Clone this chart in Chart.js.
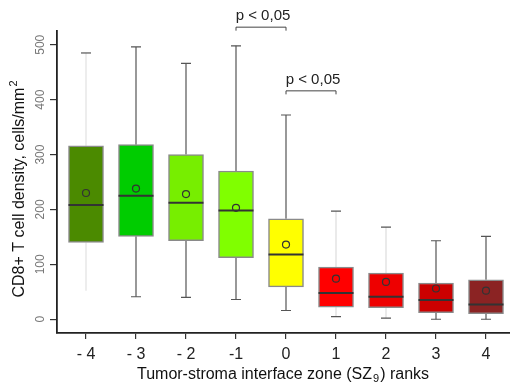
<!DOCTYPE html>
<html>
<head>
<meta charset="utf-8">
<script src="https://cdn.jsdelivr.net/npm/chart.js@4.4.0/dist/chart.umd.min.js"></script>
<style>
  html, body { margin: 0; padding: 0; background: #fff; }
  #wrap { width: 510px; height: 392px; }
</style>
</head>
<body>
<div id="wrap"><canvas id="chart"></canvas></div>
<script>
// box plot values per SZ9 rank
const ranks = [-4, -3, -2, -1, 0, 1, 2, 3, 4];
const rankLabels = ['- 4', '- 3', '- 2', '-1', '0', '1', '2', '3', '4'];
const whiskerLow = [52, 41, 40, 36, 16, 5, 2, 0, 0];
const q1 = [140, 151, 143, 112, 59, 22, 21, 12, 10];
const medians = [208, 225, 212, 198, 118, 48, 41, 35, 27];
const q3 = [316, 318, 300, 270, 183, 95, 84, 66, 72];
const whiskerHigh = [485, 496, 466, 498, 372, 197, 168, 143, 151];
const means = [230, 238, 228, 203, 136, 74, 68, 56, 52];
const yTicks = [0, 100, 200, 300, 400, 500];

// significance brackets: from rank, to rank, bracket level (data units)
const compFrom = [-1, 0];
const compTo = [0, 1];
const compLevel = [532, 416];
const compText = ['p < 0,05', 'p < 0,05'];

const boxColors = ['#4b8a00', '#00cc00', '#77ee00', '#80ff00', '#ffff00', '#ff0000', '#ee0000', '#cc0000', '#8b2323'];
const whiskerColors = ['#e2e2e2', '#555', '#555', '#555', '#555', '#dcdcdc', '#dcdcdc', '#555', '#555'];
const FONT = "'Liberation Sans', Arial, sans-serif";

const boxParts = {
    id: 'boxParts',
    beforeDatasetsDraw(chart) {
        const { ctx, scales: { x, y } } = chart;
        ctx.save();
        ranks.forEach((r, i) => {
            const px = x.getPixelForValue(r);
            ctx.strokeStyle = whiskerColors[i];
            ctx.lineWidth = 1.2;
            ctx.beginPath();
            ctx.moveTo(px, y.getPixelForValue(whiskerLow[i]));
            ctx.lineTo(px, y.getPixelForValue(q1[i]));
            ctx.moveTo(px, y.getPixelForValue(q3[i]));
            ctx.lineTo(px, y.getPixelForValue(whiskerHigh[i]));
            ctx.stroke();
            // caps
            ctx.strokeStyle = '#555';
            ctx.beginPath();
            const top = y.getPixelForValue(whiskerHigh[i]);
            ctx.moveTo(px - 5, top);
            ctx.lineTo(px + 5, top);
            if (i > 0) {
                const low = y.getPixelForValue(whiskerLow[i]);
                ctx.moveTo(px - 5, low);
                ctx.lineTo(px + 5, low);
            }
            ctx.stroke();
        });
        ctx.restore();
    },
    afterDatasetDraw(chart, args) {
        if (args.index !== 0) return;
        const { ctx, scales: { x, y } } = chart;
        ctx.save();
        ctx.strokeStyle = '#333';
        ctx.lineWidth = 2;
        ranks.forEach((r, i) => {
            const px = x.getPixelForValue(r);
            const py = y.getPixelForValue(medians[i]);
            ctx.beginPath();
            ctx.moveTo(px - 17.5, py);
            ctx.lineTo(px + 17.5, py);
            ctx.stroke();
        });
        ctx.restore();
    }
};

const extras = {
    id: 'extras',
    afterDraw(chart) {
        const { ctx, scales: { x, y } } = chart;
        ctx.save();

        // y tick labels, rotated
        ctx.fillStyle = '#777';
        ctx.font = '12px ' + FONT;
        ctx.textAlign = 'center';
        ctx.textBaseline = 'middle';
        yTicks.forEach(v => {
            ctx.save();
            ctx.translate(41, y.getPixelForValue(v));
            ctx.rotate(-Math.PI / 2);
            ctx.fillText(String(v), 0, 0);
            ctx.restore();
        });

        // y title with superscript
        ctx.fillStyle = '#111';
        ctx.save();
        ctx.translate(24, 189);
        ctx.rotate(-Math.PI / 2);
        ctx.textAlign = 'left';
        ctx.textBaseline = 'alphabetic';
        const main = 'CD8+ T cell density, cells/mm';
        ctx.font = '16px ' + FONT;
        const w1 = ctx.measureText(main).width;
        ctx.font = '11px ' + FONT;
        const w2 = ctx.measureText('2').width;
        const start = -(w1 + w2 + 1) / 2;
        ctx.font = '16px ' + FONT;
        ctx.fillText(main, start, 0);
        ctx.font = '11px ' + FONT;
        ctx.fillText('2', start + w1 + 1, -7);
        ctx.restore();

        // x title with subscript
        ctx.textAlign = 'left';
        ctx.textBaseline = 'alphabetic';
        const a = 'Tumor-stroma interface zone (SZ';
        const b = ') ranks';
        ctx.font = '16px ' + FONT;
        const wa = ctx.measureText(a).width;
        const wb = ctx.measureText(b).width;
        ctx.font = '11px ' + FONT;
        const ws = ctx.measureText('9').width;
        let sx = 283 - (wa + ws + wb + 2) / 2;
        ctx.font = '16px ' + FONT;
        ctx.fillText(a, sx, 379);
        ctx.font = '11px ' + FONT;
        ctx.fillText('9', sx + wa + 1, 382);
        ctx.font = '16px ' + FONT;
        ctx.fillText(b, sx + wa + ws + 2, 379);

        // significance brackets
        ctx.strokeStyle = '#444';
        ctx.lineWidth = 1;
        ctx.fillStyle = '#222';
        ctx.font = '15px ' + FONT;
        ctx.textAlign = 'center';
        ctx.textBaseline = 'alphabetic';
        compFrom.forEach((f, i) => {
            const x1 = x.getPixelForValue(f);
            const x2 = x.getPixelForValue(compTo[i]);
            const py = y.getPixelForValue(compLevel[i]);
            ctx.beginPath();
            ctx.moveTo(x1, py + 3.5);
            ctx.lineTo(x1, py);
            ctx.lineTo(x2, py);
            ctx.lineTo(x2, py + 3.5);
            ctx.stroke();
            ctx.fillText(compText[i], (x1 + x2) / 2 + 2, py - 7);
        });
        ctx.restore();
    }
};

new Chart(document.getElementById('chart'), {
    type: 'bar',
    data: {
        datasets: [{
            type: 'bar',
            data: ranks.map((r, i) => ({ x: r, y: [q1[i], q3[i]] })),
            backgroundColor: boxColors,
            borderColor: '#8a8a8a',
            borderWidth: 1.5,
            borderSkipped: false,
            barThickness: 35,
            order: 1
        }, {
            type: 'line',
            data: ranks.map((r, i) => ({ x: r, y: means[i] })),
            showLine: false,
            pointRadius: 3.5,
            pointBackgroundColor: 'rgba(0,0,0,0)',
            pointBorderColor: '#333',
            pointBorderWidth: 1.2,
            order: 0
        }]
    },
    options: {
        responsive: true,
        maintainAspectRatio: false,
        animation: false,
        layout: { autoPadding: false, padding: { top: 31, right: 0, left: 0, bottom: 0 } },
        plugins: {
            legend: { display: false },
            tooltip: { enabled: false }
        },
        scales: {
            x: {
                type: 'linear',
                min: -4.58,
                max: 4.48,
                offset: false,
                afterBuildTicks: s => { s.ticks = ranks.map(v => ({ value: v })); },
                afterFit: s => { s.height = 59; s.paddingLeft = 0; s.paddingRight = 0; },
                ticks: {
                    callback: v => rankLabels[ranks.indexOf(v)],
                    color: '#222',
                    font: { size: 16, family: FONT },
                    padding: 6,
                    maxRotation: 0
                },
                grid: { offset: false, drawOnChartArea: false, drawTicks: true, tickLength: 6, color: '#333', lineWidth: 1.2 },
                border: { color: '#222', width: 1.8 }
            },
            y: {
                type: 'linear',
                min: -25,
                max: 525,
                afterBuildTicks: s => { s.ticks = yTicks.map(v => ({ value: v })); },
                afterFit: s => { s.width = 57; s.paddingTop = 0; s.paddingBottom = 0; },
                ticks: { display: false },
                grid: { drawOnChartArea: false, drawTicks: true, tickLength: 7, color: '#333', lineWidth: 1.2 },
                border: { color: '#222', width: 1.8 }
            }
        }
    },
    plugins: [boxParts, extras]
});
</script>
</body>
</html>
